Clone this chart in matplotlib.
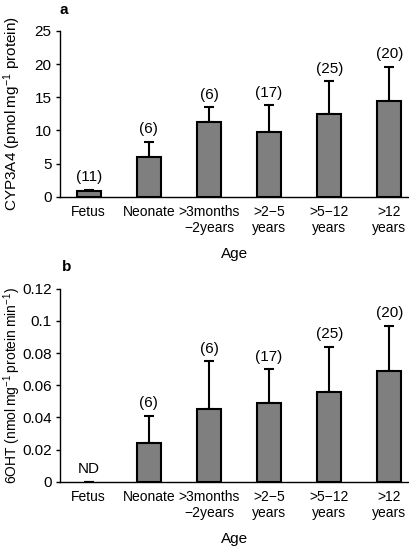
import numpy as np
import matplotlib
matplotlib.use("Agg")
import matplotlib.pyplot as plt

plt.rcParams['font.family'] = ['Liberation Sans', 'DejaVu Sans']
plt.rcParams['mathtext.fontset'] = 'custom'
plt.rcParams['mathtext.rm'] = 'Liberation Sans'
plt.rcParams['mathtext.default'] = 'regular'

# Age groups
categories = ["Fetus", "Neonate", ">3months\n\u22122years", ">2\u22125\nyears",
              ">5\u221212\nyears", ">12\nyears"]

# Panel a: CYP3A4 content (mean, upper SD)
cyp_mean = [0.9, 6.0, 11.3, 9.7, 12.5, 14.5]
cyp_sd = [0.2, 2.3, 2.2, 4.1, 4.9, 5.1]
cyp_n = ["(11)", "(6)", "(6)", "(17)", "(25)", "(20)"]

# Panel b: 6OHT formation (Fetus not detected)
oht_mean = [np.nan, 0.024, 0.045, 0.049, 0.056, 0.069]
oht_sd = [0.0, 0.017, 0.030, 0.021, 0.028, 0.028]
oht_n = ["ND", "(6)", "(6)", "(17)", "(25)", "(20)"]

bar_color = "#7f7f7f"

fig = plt.figure(figsize=(4.1, 5.5), dpi=100)
ax1 = fig.add_axes([0.146, 0.642, 0.852, 0.302])
ax2 = fig.add_axes([0.146, 0.124, 0.852, 0.351])


def draw_panel(ax, means, sds, labels, ylim, yticks, yticklabels, ylabel, ylabel_size):
    x = np.arange(len(means))
    m = np.array(means, dtype=float)
    ax.bar(x, m, width=0.4, color=bar_color, edgecolor="black", linewidth=1.5, zorder=2)
    base = np.nan_to_num(m)
    ax.errorbar(x, base, yerr=[np.zeros(len(sds)), sds], fmt="none", ecolor="black",
                elinewidth=1.5, capsize=3.6, capthick=1.5, zorder=1)
    for xi, b, s, lab in zip(x, base, sds, labels):
        ax.annotate(lab, (xi, b + s), xytext=(0, 4), textcoords="offset points",
                    ha="center", va="bottom", fontsize=11)
    ax.set_xlim(-0.48, 5.33)
    ax.set_ylim(*ylim)
    ax.set_yticks(yticks)
    ax.set_yticklabels(yticklabels, fontsize=11)
    ax.set_xticks(x)
    ax.set_xticklabels(categories, fontsize=10, linespacing=1.15)
    ax.tick_params(axis="x", length=0, pad=6)
    ax.tick_params(axis="y", length=3, width=1, direction="out", pad=3)
    for s in ["top", "right"]:
        ax.spines[s].set_visible(False)
    for s in ["left", "bottom"]:
        ax.spines[s].set_linewidth(1.0)
    ax.set_ylabel(ylabel, fontsize=ylabel_size)
    # right edge of the rotated label about 23 px from the figure's left edge
    ax.yaxis.set_label_coords(-37 / 349, 0.5)
    ax.set_xlabel("Age", fontsize=11, labelpad=9)


draw_panel(ax1, cyp_mean, cyp_sd, cyp_n, (0, 25), [0, 5, 10, 15, 20, 25],
           ["0", "5", "10", "15", "20", "25"],
           "CYP3A4 (pmol\u2009mg$^{-1}$ protein)", 11)
draw_panel(ax2, oht_mean, oht_sd, oht_n, (0, 0.12),
           [0, 0.02, 0.04, 0.06, 0.08, 0.1, 0.12],
           ["0", "0.02", "0.04", "0.06", "0.08", "0.1", "0.12"],
           "6OHT (nmol\u2009mg$^{-1}$\u2009protein\u2009min$^{-1}$)", 10)

fig.text(0.146, 0.995, "a", fontsize=11, fontweight="bold", va="top")
fig.text(0.151, 0.528, "b", fontsize=11, fontweight="bold", va="top")

fig.savefig("out.png", dpi=100)
